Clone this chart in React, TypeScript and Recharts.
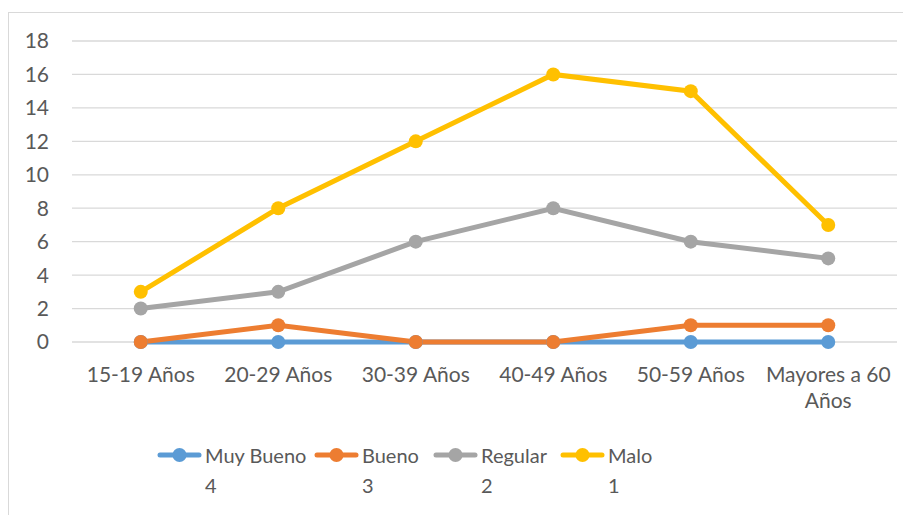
import { CartesianGrid, Line, LineChart, XAxis, YAxis } from 'recharts'

const categories = ['15-19 Años', '20-29 Años', '30-39 Años', '40-49 Años', '50-59 Años', 'Mayores a 60 Años']
const muyBueno = [0, 0, 0, 0, 0, 0]
const bueno = [0, 1, 0, 0, 1, 1]
const regular = [2, 3, 6, 8, 6, 5]
const malo = [3, 8, 12, 16, 15, 7]
const yTicks = [0, 2, 4, 6, 8, 10, 12, 14, 16, 18]

const series = [
  { key: 'muyBueno', name: 'Muy Bueno', rank: '4', color: '#5B9BD5' },
  { key: 'bueno', name: 'Bueno', rank: '3', color: '#ED7D31' },
  { key: 'regular', name: 'Regular', rank: '2', color: '#A5A5A5' },
  { key: 'malo', name: 'Malo', rank: '1', color: '#FFC000' },
]
// legend slot widths, to line the items up like the original
const legendSlots = [157, 119, 127, 100]

const chartData = categories.map((cat, i) => ({
  cat,
  muyBueno: muyBueno[i],
  bueno: bueno[i],
  regular: regular[i],
  malo: malo[i],
}))

const FONT = 'Lato, sans-serif'
const TEXT = '#595959'

// wrap a label into lines of at most 12 chars
function wrap(label: string) {
  const lines: string[] = []
  let cur = ''
  for (const w of label.split(' ')) {
    const next = cur ? `${cur} ${w}` : w
    if (next.length > 12 && cur) {
      lines.push(cur)
      cur = w
    } else cur = next
  }
  if (cur) lines.push(cur)
  return lines
}

function CatTick({ x, y, payload }: any) {
  const lines = wrap(String(payload.value))
  return (
    <text x={x} y={y} textAnchor="middle" fill={TEXT} fontSize={21} fontFamily={FONT}>
      {lines.map((l, i) => (
        <tspan key={i} x={x} dy={i === 0 ? 15 : 26}>
          {l}
        </tspan>
      ))}
    </text>
  )
}

export default function App() {
  return (
    <div style={{ marginTop: 4, width: 903, height: 503, overflow: 'hidden' }}>
      <div
        style={{
          position: 'relative',
          width: 903,
          height: 503,
          borderLeft: '1.5px solid #D9D9D9',
          borderTop: '1.5px solid #D9D9D9',
          boxSizing: 'border-box',
          background: '#fff',
          fontFamily: FONT,
        }}
      >
        <LineChart width={896} height={496} data={chartData} margin={{ top: 28, right: 8, left: 0, bottom: 0 }}>
          <CartesianGrid vertical={false} stroke="#D9D9D9" strokeWidth={1.3} />
          <XAxis
            dataKey="cat"
            axisLine={false}
            tickLine={false}
            tickSize={0}
            tickMargin={25}
            height={167}
            interval={0}
            padding={{ left: 68.75, right: 68.75 }}
            tick={<CatTick />}
          />
          <YAxis
            domain={[0, 18]}
            ticks={yTicks}
            width={63}
            axisLine={false}
            tickLine={false}
            tickSize={0}
            tickMargin={23}
            tick={{ fill: TEXT, fontSize: 21, fontFamily: FONT }}
          />
          {series.map((s) => (
            <Line
              key={s.key}
              dataKey={s.key}
              name={s.name}
              type="linear"
              stroke={s.color}
              strokeWidth={5}
              dot={{ r: 7, fill: s.color, stroke: s.color, strokeWidth: 0 }}
              activeDot={false}
              isAnimationActive={false}
            />
          ))}
        </LineChart>
        <div style={{ position: 'absolute', left: 148, top: 427, display: 'flex', color: TEXT, fontSize: 20 }}>
          {series.map((s, i) => (
            <div key={s.key} style={{ display: 'flex', alignItems: 'flex-start', width: legendSlots[i] }}>
              <svg width={45} height={30} style={{ marginRight: 3, flexShrink: 0 }}>
                <line x1={3} y1={15} x2={42} y2={15} stroke={s.color} strokeWidth={5} strokeLinecap="round" />
                <circle cx={22.5} cy={15} r={7} fill={s.color} />
              </svg>
              <div style={{ lineHeight: '30px', whiteSpace: 'nowrap' }}>
                <div>{s.name}</div>
                <div>{s.rank}</div>
              </div>
            </div>
          ))}
        </div>
      </div>
    </div>
  )
}
